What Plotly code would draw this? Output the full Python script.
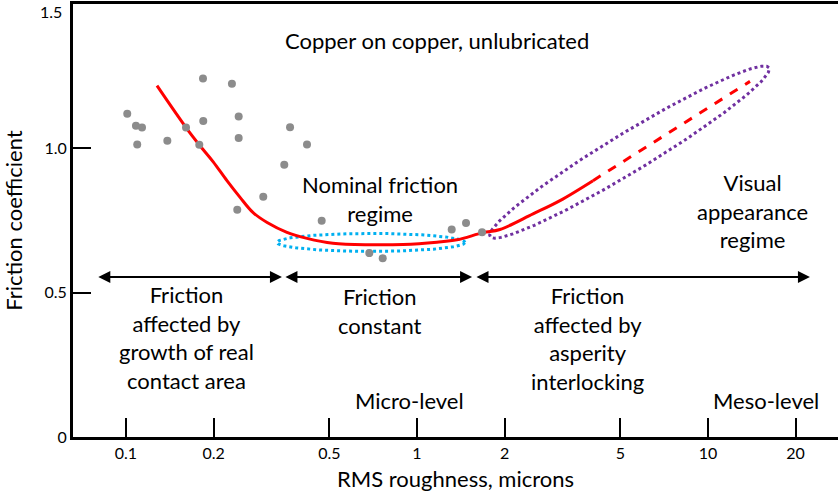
import numpy as np
import plotly.graph_objects as go

# ---------------- data ----------------
pts_x = [0.101, 0.1082, 0.1135, 0.1093, 0.1387, 0.1608, 0.1786, 0.1839, 0.1843, 0.2312,
         0.2439, 0.2439, 0.2412, 0.2963, 0.3499, 0.3662, 0.4188, 0.4704, 0.6857, 0.7624,
         1.316, 1.474, 1.673]
pts_y = [1.120, 1.078, 1.072, 1.013, 1.026, 1.072, 1.012, 1.242, 1.095, 1.224,
         1.110, 1.036, 0.787, 0.832, 0.943, 1.073, 1.013, 0.749, 0.637, 0.619,
         0.719, 0.741, 0.709]

curve_x = [0.1278, 0.1608, 0.1796, 0.1991, 0.2223, 0.2466, 0.2729, 0.3055, 0.3573, 0.4188,
           0.5140, 0.6897, 0.8954, 1.171, 1.371, 1.687, 1.928, 2.504, 3.100, 4.025]
curve_y = [1.217, 1.072, 1.009, 0.954, 0.888, 0.830, 0.778, 0.743, 0.709, 0.688,
           0.671, 0.666, 0.667, 0.675, 0.683, 0.708, 0.719, 0.773, 0.819, 0.888]

extrap_x = [4.025, 13.94]
extrap_y = [0.888, 1.232]

xtick_vals = [0.1, 0.2, 0.5, 1, 2, 5, 10, 20]
xtick_text = ["0.1", "0.2", "0.5", "1", "2", "5", "10", "20"]
ytick_vals = [0, 0.5, 1.0]
ytick_text = ["0", "0.5", "1.0"]
ytop_val, ytop_text = 1.5, "1.5"

regime_bounds = [0.0794, 0.3435, 0.349, 1.546, 1.582, 22.4]   # arrow extents
regime_level = 0.554

# ---------------- layout geometry ----------------
W, H = 838, 500
ML, MR, MT, MB = 73, 0, 4, 63
XR = [-1.1821, 1.4467]   # log10 range
YR = [0, 1.5]
px_per_dec = (W - ML - MR) / (XR[1] - XR[0])
px_per_y = (H - MT - MB) / (YR[1] - YR[0])

FONT = "Lato"
FS = 22


def ellipse(cx, cy, a_px, b_px, ang_deg, n=240):
    t = np.linspace(0, 2 * np.pi, n)
    th = np.radians(ang_deg)
    dx = a_px * np.cos(t) * np.cos(th) - b_px * np.sin(t) * np.sin(th)
    dy = a_px * np.cos(t) * np.sin(th) + b_px * np.sin(t) * np.cos(th)
    xs = 10 ** (np.log10(cx) + dx / px_per_dec)
    ys = cy + dy / px_per_y
    return xs, ys


fig = go.Figure()

ex, ey = ellipse(0.695, 0.674, 94, 9, 0)
fig.add_trace(go.Scatter(x=ex, y=ey, mode="lines", hoverinfo="skip",
                         line=dict(color="#00b0f0", width=3, dash="dot")))
px_, py_ = ellipse(5.373, 0.987, 163, 19.5, 31.2)
fig.add_trace(go.Scatter(x=px_, y=py_, mode="lines", hoverinfo="skip",
                         line=dict(color="#7030a0", width=3, dash="dot")))

fig.add_trace(go.Scatter(x=curve_x, y=curve_y, mode="lines", line_shape="spline",
                         line=dict(color="#ff0000", width=3)))
fig.add_trace(go.Scatter(x=extrap_x, y=extrap_y, mode="lines",
                         line=dict(color="#ff0000", width=3, dash="dash")))
fig.add_trace(go.Scatter(x=pts_x, y=pts_y, mode="markers",
                         marker=dict(color="#8c8c8c", size=8)))

# regime arrows
for i in range(0, len(regime_bounds), 2):
    fig.add_annotation(x=np.log10(regime_bounds[i + 1]), y=regime_level,
                       ax=np.log10(regime_bounds[i]), ay=regime_level,
                       xref="x", yref="y", axref="x", ayref="y", text="",
                       showarrow=True, arrowside="end+start", arrowhead=2,
                       arrowsize=1.2, arrowwidth=2, arrowcolor="black",
                       standoff=0, startstandoff=0)

labels = [
    ("Copper on copper, unlubricated", 1.176, 1.375),
    ("Nominal friction<br>regime", 0.746, 0.826),
    ("Visual<br>appearance<br>regime", 14.27, 0.783),
    ("Friction<br>affected by<br>growth of real<br>contact area", 0.1608, 0.343),
    ("Friction<br>constant", 0.746, 0.435),
    ("Friction<br>affected by<br>asperity<br>interlocking", 3.84, 0.34),
    ("Micro-level", 0.946, 0.128),
    ("Meso-level", 15.82, 0.125),
]
for txt, x, y in labels:
    fig.add_annotation(x=np.log10(x), y=y, xref="x", yref="y", text=txt,
                       showarrow=False, font=dict(family=FONT, size=FS, color="black"))

# top y tick label (plotly drops the label at the very edge of the range)
fig.add_annotation(x=0, y=ytop_val, xref="paper", yref="y", text=ytop_text,
                   showarrow=False, xanchor="right", yanchor="top", xshift=-10, yshift=3,
                   borderpad=0, font=dict(family=FONT, size=16, color="black"))

fig.update_layout(
    width=W, height=H,
    margin=dict(l=ML, r=MR, t=MT, b=MB, autoexpand=False),
    paper_bgcolor="white", plot_bgcolor="white",
    showlegend=False,
    font=dict(family=FONT, color="black"),
    xaxis=dict(type="log", range=XR, showgrid=False, zeroline=False, automargin=False,
               showline=True, linecolor="black", linewidth=3, mirror=True,
               ticks="inside", ticklen=19, tickwidth=2, tickcolor="black",
               tickvals=xtick_vals, ticktext=xtick_text,
               tickfont=dict(family=FONT, size=16),
               title=dict(text="RMS roughness, microns", font=dict(family=FONT, size=FS),
                          standoff=11)),
    yaxis=dict(range=YR, showgrid=False, zeroline=False, automargin=False,
               showline=True, linecolor="black", linewidth=3,
               ticks="inside", ticklen=18, tickwidth=2, tickcolor="black",
               tickvals=ytick_vals, ticktext=ytick_text,
               tickfont=dict(family=FONT, size=16),
               title=dict(text="Friction coefficient", font=dict(family=FONT, size=FS),
                          standoff=16)),
)

fig.write_html("out.html", config={"displayModeBar": False},
               post_script="document.body.style.margin='0px';document.body.style.overflow='hidden';")
